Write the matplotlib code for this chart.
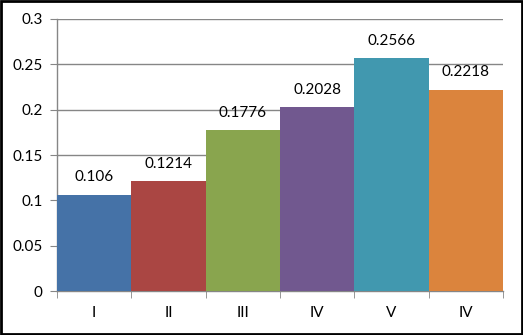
import matplotlib
matplotlib.use("Agg")
import matplotlib.pyplot as plt
from matplotlib.patches import Rectangle

categories = ["I", "II", "III", "IV", "V", "IV"]
values = [0.106, 0.1214, 0.1776, 0.2028, 0.2566, 0.2218]
colors = ["#4572A7", "#AA4643", "#89A54E", "#71588F", "#4198AF", "#DB843D"]
yticks = [0, 0.05, 0.1, 0.15, 0.2, 0.25, 0.3]
ytick_labels = ["0", "0.05", "0.1", "0.15", "0.2", "0.25", "0.3"]

plt.rcParams["font.family"] = ["Lato", "DejaVu Sans"]

fig = plt.figure(figsize=(5.23, 3.35), dpi=100)
ax = fig.add_axes([0.109, 0.1313, 0.8528, 0.812])

x = list(range(len(categories)))
ax.bar(x, values, width=1.0, color=colors, zorder=3)

for xi, v in zip(x, values):
    ax.annotate(f"{v:g}", (xi, v), xytext=(0, 7.5), textcoords="offset points",
                ha="center", va="bottom", fontsize=11, color="black")

ax.set_xlim(-0.5, len(categories) - 0.5)
ax.set_ylim(0, 0.3)
ax.set_yticks(yticks)
ax.set_yticklabels(ytick_labels, fontsize=11)
ax.yaxis.grid(True, color="#868686", linewidth=1, zorder=0)

ax.set_xticks(x)
ax.set_xticklabels(categories, fontsize=11)
ax.tick_params(axis="x", length=0, pad=11)
ax.set_xticks([i - 0.5 for i in range(len(categories) + 1)], minor=True)
ax.tick_params(axis="x", which="minor", length=5, color="#868686", direction="out")
ax.tick_params(axis="y", length=5, color="#868686", direction="out", pad=5.5)

for side in ("top", "right"):
    ax.spines[side].set_visible(False)
for side in ("left", "bottom"):
    ax.spines[side].set_color("#868686")
    ax.spines[side].set_linewidth(1)

fig.patches.append(Rectangle((0.002, 0.003), 0.996, 0.994, transform=fig.transFigure,
                             fill=False, edgecolor="black", linewidth=2))

fig.savefig("out.png", dpi=100, facecolor="white")
